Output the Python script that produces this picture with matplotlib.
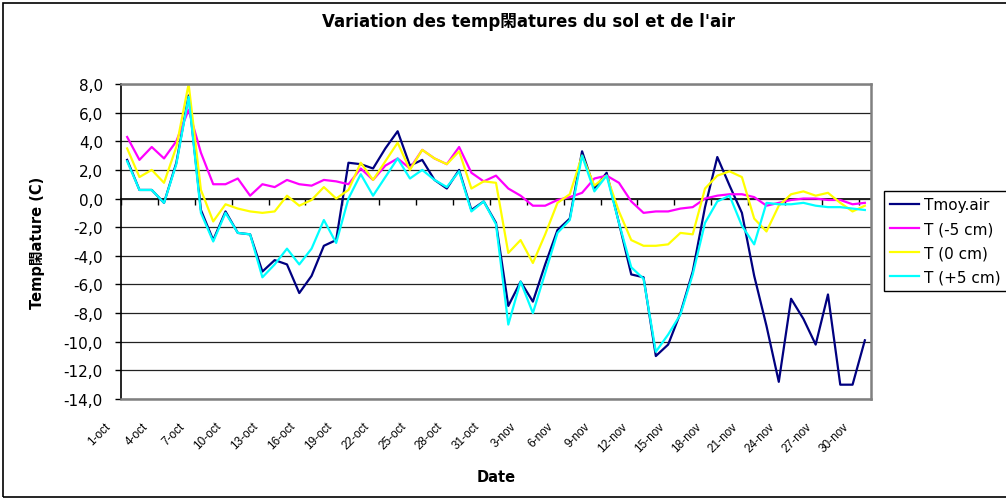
import matplotlib.pyplot as plt
from matplotlib.ticker import FuncFormatter
from matplotlib.transforms import ScaledTranslation
from matplotlib.patches import Rectangle
import numpy as np

# ---- donnees ----
dates = [f"{d}-oct" for d in range(1, 32)] + [f"{d}-nov" for d in range(1, 31)]

t_air = [2.7, 0.6, 0.6, -0.3, 2.5, 7.2, -0.8, -2.9, -0.9, -2.4, -2.5, -5.1, -4.3, -4.6, -6.6, -5.4,
         -3.3, -2.9, 2.5, 2.4, 2.1, 3.5, 4.7, 2.3, 2.7, 1.3, 0.7, 2.0, -0.8, -0.2, -1.7,
         -7.5, -5.8, -7.2, -4.6, -2.2, -1.4, 3.3, 0.7, 1.8, -1.7, -5.3, -5.5, -11.0, -10.2, -8.0,
         -5.1, -0.6, 2.9, 0.9, -1.0, -5.4, -8.9, -12.8, -7.0, -8.4, -10.2, -6.7, -13.0, -13.0, -9.9]
t_m5 = [4.3, 2.7, 3.6, 2.8, 4.0, 6.2, 3.2, 1.0, 1.0, 1.4, 0.2, 1.0, 0.8, 1.3, 1.0, 0.9,
        1.3, 1.2, 1.0, 2.1, 1.3, 2.3, 2.8, 2.1, 3.4, 2.8, 2.4, 3.6, 1.8, 1.2, 1.6,
        0.7, 0.2, -0.5, -0.5, -0.1, 0.1, 0.4, 1.4, 1.6, 1.1, -0.2, -1.0, -0.9, -0.9, -0.7,
        -0.6, 0.0, 0.2, 0.3, 0.3, 0.1, -0.5, -0.3, -0.1, 0.0, 0.0, -0.1, -0.1, -0.4, -0.3]
t_0 = [3.5, 1.5, 2.0, 1.1, 3.6, 8.0, 0.6, -1.6, -0.4, -0.7, -0.9, -1.0, -0.9, 0.2, -0.5, -0.1,
       0.8, 0.0, 0.6, 2.5, 1.3, 2.6, 3.9, 2.0, 3.4, 2.8, 2.4, 3.3, 0.7, 1.2, 1.1,
       -3.8, -2.9, -4.5, -2.5, -0.3, 0.3, 3.0, 0.9, 1.6, -0.9, -2.9, -3.3, -3.3, -3.2, -2.4,
       -2.5, 0.7, 1.6, 1.9, 1.5, -1.4, -2.3, -0.5, 0.3, 0.5, 0.2, 0.4, -0.3, -0.9, -0.5]
t_p5 = [2.6, 0.6, 0.6, -0.3, 2.4, 7.1, -1.0, -3.0, -1.0, -2.4, -2.5, -5.5, -4.6, -3.5, -4.6, -3.5,
        -1.5, -3.1, 0.0, 1.7, 0.2, 1.5, 2.8, 1.4, 2.0, 1.3, 0.8, 1.9, -0.9, -0.2, -1.8,
        -8.8, -5.8, -8.0, -5.2, -2.4, -1.5, 3.0, 0.5, 1.6, -1.7, -4.8, -5.6, -10.7, -9.5, -8.1,
        -5.3, -1.7, -0.2, 0.2, -1.9, -3.2, -0.3, -0.4, -0.4, -0.3, -0.5, -0.6, -0.6, -0.7, -0.8]

series = [
    ("Tmoy.air", t_air, "#000080"),
    ("T (-5 cm)", t_m5, "#FF00FF"),
    ("T (0 cm)", t_0, "#FFFF00"),
    ("T (+5 cm)", t_p5, "#00FFFF"),
]

# ---- style ----
plt.rcParams['font.family'] = ['DejaVu Sans', 'Noto Sans CJK JP']
plt.rcParams['axes.unicode_minus'] = False

fig = plt.figure(figsize=(10.06, 5.02), dpi=100)
ax = fig.add_axes([121 / 1006, 1 - 400 / 502, 750 / 1006, 315 / 502])

x = np.arange(len(dates))
for name, vals, col in series:
    ax.plot(x, vals, color=col, linewidth=1.6, label=name)

ax.set_xlim(-0.5, len(dates) - 0.5)
ax.set_ylim(-14, 8)
ax.set_yticks(np.arange(-14, 8.1, 2))
ax.yaxis.set_major_formatter(FuncFormatter(lambda v, p: f"{v:.1f}".replace('.', ',')))
ax.tick_params(axis='y', direction='out', length=4, width=1, labelsize=11, pad=9)

# grille horizontale facon Excel
ax.grid(True, axis='y', color='#222222', linewidth=0.9)
ax.set_axisbelow(True)
for side in ['top', 'right', 'bottom']:
    ax.spines[side].set_color('#808080')
    ax.spines[side].set_linewidth(1.8)
ax.spines['left'].set_color('black')
ax.spines['left'].set_linewidth(1.2)

# etiquettes des dates (tous les 3 jours), decalees comme dans Excel
ax.set_xticks(x[::3])
ax.set_xticklabels(dates[::3], rotation=45, ha='right', va='top', fontsize=8.5,
                   family='Liberation Sans')
ax.tick_params(axis='x', length=0, pad=15)
offset = ScaledTranslation(-14 / 100, 0, fig.dpi_scale_trans)
for lab in ax.get_xticklabels():
    lab.set_transform(lab.get_transform() + offset)

# axe des categories croise a 0
sec = ax.secondary_xaxis(0, transform=ax.transData)
sec.set_xticks(np.arange(-0.5, len(dates), 3))
sec.xaxis.set_ticks_position('bottom')
sec.tick_params(axis='x', direction='out', length=4, width=1, color='black',
                labelbottom=False, labeltop=False)
for sp in sec.spines.values():
    sp.set_color('black')
    sp.set_linewidth(1.2)

ax.set_xlabel('Date', fontsize=10.5, fontweight='bold')
ax.xaxis.set_label_coords(0.5, (400 - 478) / 315)
ax.xaxis.label.set_va('center')
ax.set_ylabel('Temp閑ature (C)', fontsize=10.5, fontweight='bold')
ax.yaxis.set_label_coords((38 - 121) / 750, 0.5)
ax.yaxis.label.set_va('center')

fig.text(528 / 1006, 1 - 22 / 502, "Variation des temp閑atures du sol et de l'air",
         ha='center', va='center', fontsize=12, fontweight='bold')

leg = fig.legend(loc='upper left', bbox_to_anchor=(884 / 1006, 1 - 192 / 502),
                 borderaxespad=0, fontsize=11, frameon=True, fancybox=False,
                 framealpha=1, edgecolor='black', handlelength=1.9, handletextpad=0.35,
                 labelspacing=0.6, borderpad=0.4)
leg.get_frame().set_linewidth(1.0)

# cadre du graphique
fig.patches.append(Rectangle((3 / 1006, 4 / 502), 1.2, 1 - 8 / 502, transform=fig.transFigure,
                             fill=False, edgecolor='black', linewidth=1.2))

plt.savefig('out.png', dpi=100)
